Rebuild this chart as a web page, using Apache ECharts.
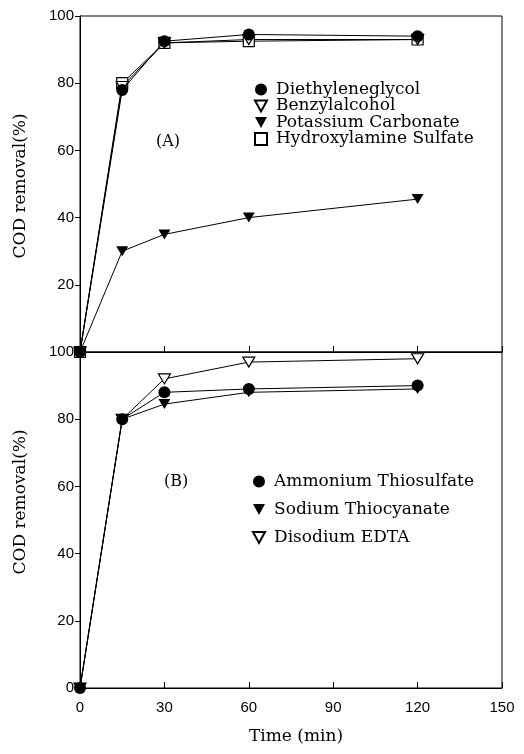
<!DOCTYPE html>
<html>
<head>
<meta charset="utf-8">
<script src="https://cdn.jsdelivr.net/npm/echarts@6/dist/echarts.min.js"></script>
<style>
html,body{margin:0;padding:0;background:#fff;}
#c{width:524px;height:754px;}
</style>
</head>
<body>
<div id="c"></div>
<script>
// ---- data ----
var times = [0, 15, 30, 60, 120];
var xTicks = [0, 30, 60, 90, 120, 150];
var yTicks = [0, 20, 40, 60, 80, 100];

// Panel (A)
var diethyleneglycol   = [0, 78, 92.5, 94.5, 94];
var benzylalcohol      = [0, 79, 92, 93, 93];
var potassiumCarbonate = [0, 30, 35, 40, 45.5];
var hydroxylamineSulf  = [0, 80, 92, 92.5, 93];

// Panel (B)
var ammoniumThiosulf   = [0, 80, 88, 89, 90];
var sodiumThiocyanate  = [0, 80, 84.5, 88, 89];
var disodiumEDTA       = [0, 80, 92, 97, 98];

function pairs(v){ return times.map(function(t,i){ return [t, v[i]]; }); }

var TRI_DOWN = 'path://M0,0L10,0L5,9Z';
var serif = '"DejaVu Serif", "Liberation Serif", serif';
var sans = '"Liberation Sans", Arial, sans-serif';

function mk(name, data, gi, symbol, size, open){
  return {
    type:'line', name:name, xAxisIndex:gi, yAxisIndex:gi,
    data:pairs(data), symbol:symbol, symbolSize:size, clip:false,
    showAllSymbol:true,
    lineStyle:{color:'#000', width:1},
    itemStyle: open ? {color:'#fff', borderColor:'#000', borderWidth:1.2} : {color:'#000', borderColor:'#000', borderWidth:0},
    emphasis:{disabled:true}, animation:false, z: open ? 3 : 4
  };
}

var chart = echarts.init(document.getElementById('c'), null, {renderer:'canvas'});

function xAx(gi, showLabel){
  return {
    type:'value', gridIndex:gi, min:0, max:150, interval:30,
    axisLine:{show:true, onZero:false, lineStyle:{color:'#000', width:1}},
    axisTick:{show:true, inside:true, length:6, lineStyle:{color:'#000'}},
    axisLabel:{show:showLabel, color:'#000', fontFamily:sans, fontSize:15, margin:12},
    splitLine:{show:false}
  };
}
function yAx(gi, showMin){
  return {
    type:'value', gridIndex:gi, min:0, max:100, interval:20,
    axisLine:{show:true, onZero:false, lineStyle:{color:'#000', width:1}},
    axisTick:{show:true, inside:false, length:5, lineStyle:{color:'#000'}},
    axisLabel:{show:true, showMinLabel:showMin, color:'#000', fontFamily:sans, fontSize:15, margin:6},
    splitLine:{show:false}
  };
}

var legendText = {fontFamily:serif, fontSize:17, color:'#000', padding:[0,0,0,4], lineHeight:14};

var option = {
  backgroundColor:'#fff',
  animation:false,
  grid:[
    {left:80, top:16, width:422, height:336, show:true, borderColor:'#000', borderWidth:1, backgroundColor:'transparent'},
    {left:80, top:352, width:422, height:336, show:true, borderColor:'#000', borderWidth:1, backgroundColor:'transparent'}
  ],
  xAxis:[ xAx(0,false), xAx(1,true) ],
  yAxis:[ yAx(0,false), yAx(1,true) ],
  legend:[
    {
      left:254, top:81, orient:'vertical', itemGap:-0.5, itemWidth:12, itemHeight:12,
      textStyle:legendText, selectedMode:false, padding:0,
      data:[
        {name:'Diethyleneglycol', icon:'circle'},
        {name:'Benzylalcohol', icon:TRI_DOWN},
        {name:'Potassium Carbonate', icon:TRI_DOWN},
        {name:'Hydroxylamine Sulfate', icon:'rect'}
      ]
    },
    {
      left:252, top:473, orient:'vertical', itemGap:11, itemWidth:12, itemHeight:12,
      textStyle:legendText, selectedMode:false, padding:0,
      data:[
        {name:'Ammonium Thiosulfate', icon:'circle'},
        {name:'Sodium Thiocyanate', icon:TRI_DOWN},
        {name:'Disodium EDTA', icon:TRI_DOWN}
      ]
    }
  ],
  graphic:[
    {type:'text', left:156, top:134, style:{text:'(A)', font:'16px ' + serif, fill:'#000'}},
    {type:'text', left:164, top:474, style:{text:'(B)', font:'16px ' + serif, fill:'#000'}},
    {type:'text', x:21, y:186, rotation:Math.PI/2, style:{text:'COD removal(%)', font:'17px ' + serif, fill:'#000', align:'center', verticalAlign:'middle'}},
    {type:'text', x:21, y:502, rotation:Math.PI/2, style:{text:'COD removal(%)', font:'17px ' + serif, fill:'#000', align:'center', verticalAlign:'middle'}},
    {type:'text', x:296, y:737, style:{text:'Time (min)', font:'17px ' + serif, fill:'#000', align:'center', verticalAlign:'middle'}}
  ],
  series:[
    mk('Hydroxylamine Sulfate', hydroxylamineSulf, 0, 'rect', 11, true),
    mk('Benzylalcohol', benzylalcohol, 0, TRI_DOWN, [12,10], true),
    mk('Potassium Carbonate', potassiumCarbonate, 0, TRI_DOWN, [12,10], false),
    mk('Diethyleneglycol', diethyleneglycol, 0, 'circle', 12, false),
    mk('Disodium EDTA', disodiumEDTA, 1, TRI_DOWN, [12,10], true),
    mk('Sodium Thiocyanate', sodiumThiocyanate, 1, TRI_DOWN, [12,10], false),
    mk('Ammonium Thiosulfate', ammoniumThiosulf, 1, 'circle', 12, false)
  ]
};
chart.setOption(option);
</script>
</body>
</html>
